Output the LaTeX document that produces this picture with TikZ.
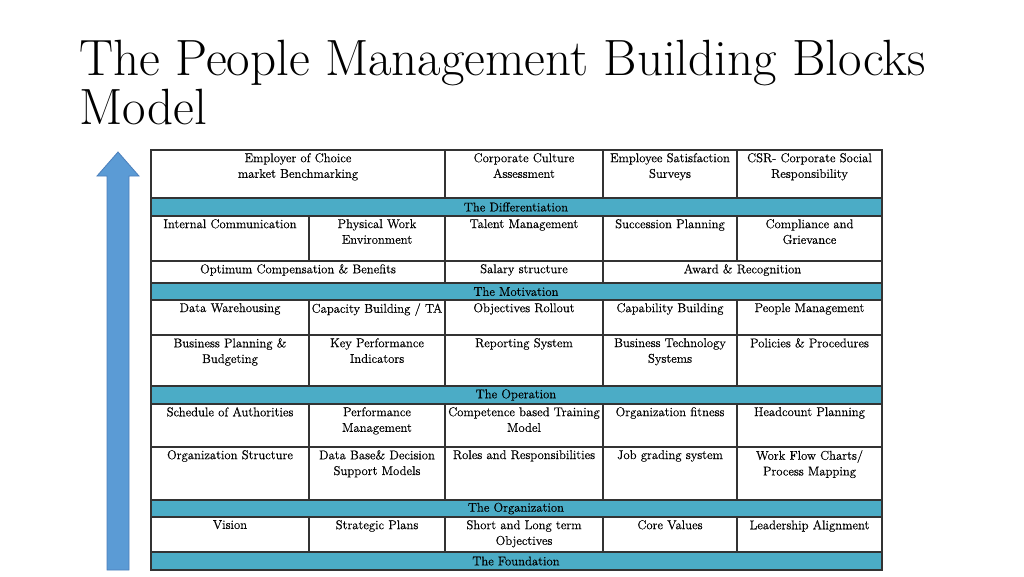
\documentclass[tikz,border=0pt]{standalone}
\usepackage{fontspec}
\newfontfamily\cellfont{Latin Modern Roman}[FakeBold=0.5]
\definecolor{band}{HTML}{4BACC6}
\definecolor{arrowfill}{HTML}{5B9BD5}
\definecolor{arrowline}{HTML}{4A7EBB}
\definecolor{gridline}{HTML}{333333}
\tikzset{
  grid/.style={draw=gridline, line width=1.3pt},
  bandbox/.style={grid, fill=band},
  celltext/.style={inner sep=0pt, align=center, font=\cellfont\fontsize{12.7}{15.7}\selectfont, anchor=north},
  bandtext/.style={inner sep=0pt, font=\cellfont\fontsize{12.7}{15.7}\selectfont},
  titletext/.style={inner sep=0pt, anchor=base west, font=\fontsize{51}{51}\selectfont},
}
\newcommand{\tcell}[6]{% name, x1, x2, y1, y2, text
  \draw[grid] (#2,#4) rectangle (#3,#5);
  \pgfmathsetmacro{\tw}{#3-#2-3}
  \node[celltext, text width=\tw pt] (#1) at ({(#2+#3)/2},{#4+3}) {#6};
}
\newcommand{\tband}[4]{% name, y1, y2, text
  \draw[bandbox] (151,#2) rectangle (882,#3);
  \node[bandtext] (#1) at (516,{(#2+#3)/2}) {#4};
}
\begin{document}
\begin{tikzpicture}[x=1pt,y=-1pt]
\useasboundingbox (0,0) rectangle (1024,576);
% title
\node[titletext] (title1) at (79,75) {The People Management Building Blocks};
\node[titletext] (title2) at (79,124) {Model};
% arrow
\draw[fill=arrowfill, draw=arrowline, line width=0.8pt] (107,570) -- (107,176) -- (97,176) -- (118,152) -- (139,176) -- (129,176) -- (129,570) -- cycle;
% row 1
\tcell{r1a}{151}{445}{150}{198}{Employer of Choice\\market Benchmarking}
\tcell{r1b}{445}{603}{150}{198}{Corporate Culture\\Assessment}
\tcell{r1c}{603}{737}{150}{198}{Employee Satisfaction\\Surveys}
\tcell{r1d}{737}{882}{150}{198}{CSR- Corporate Social\\Responsibility}
\tband{b1}{198}{216}{The Differentiation}
% row 2
\tcell{r2a}{151}{309}{216}{261}{Internal Communication}
\tcell{r2b}{309}{445}{216}{261}{Physical Work\\Environment}
\tcell{r2c}{445}{603}{216}{261}{Talent Management}
\tcell{r2d}{603}{737}{216}{261}{Succession Planning}
\tcell{r2e}{737}{882}{216}{261}{Compliance and\\Grievance}
% row 3
\tcell{r3a}{151}{445}{261}{283}{Optimum Compensation \& Benefits}
\tcell{r3b}{445}{603}{261}{283}{Salary structure}
\tcell{r3c}{603}{882}{261}{283}{Award \& Recognition}
\tband{b2}{283}{300}{The Motivation}
% row 4
\tcell{r4a}{151}{309}{300}{335}{Data Warehousing}
\tcell{r4b}{309}{445}{300}{335}{Capacity Building / TA}
\tcell{r4c}{445}{603}{300}{335}{Objectives Rollout}
\tcell{r4d}{603}{737}{300}{335}{Capability Building}
\tcell{r4e}{737}{882}{300}{335}{People Management}
% row 5
\tcell{r5a}{151}{309}{335}{386}{Business Planning \&\\Budgeting}
\tcell{r5b}{309}{445}{335}{386}{Key Performance\\Indicators}
\tcell{r5c}{445}{603}{335}{386}{Reporting System}
\tcell{r5d}{603}{737}{335}{386}{Business Technology\\Systems}
\tcell{r5e}{737}{882}{335}{386}{Policies \& Procedures}
\tband{b3}{386}{404}{The Operation}
% row 6
\tcell{r6a}{151}{309}{404}{447}{Schedule of Authorities}
\tcell{r6b}{309}{445}{404}{447}{Performance\\Management}
\tcell{r6c}{445}{603}{404}{447}{Competence based Training\\Model}
\tcell{r6d}{603}{737}{404}{447}{Organization fitness}
\tcell{r6e}{737}{882}{404}{447}{Headcount Planning}
% row 7
\tcell{r7a}{151}{309}{447}{500}{Organization Structure}
\tcell{r7b}{309}{445}{447}{500}{Data Base\& Decision\\Support Models}
\tcell{r7c}{445}{603}{447}{500}{Roles and Responsibilities}
\tcell{r7d}{603}{737}{447}{500}{Job grading system}
\tcell{r7e}{737}{882}{447}{500}{Work Flow Charts/\\Process Mapping}
\tband{b4}{500}{517}{The Organization}
% row 8
\tcell{r8a}{151}{309}{517}{552}{Vision}
\tcell{r8b}{309}{445}{517}{552}{Strategic Plans}
\tcell{r8c}{445}{603}{517}{552}{Short and Long term\\Objectives}
\tcell{r8d}{603}{737}{517}{552}{Core Values}
\tcell{r8e}{737}{882}{517}{552}{Leadership Alignment}
\tband{b5}{552}{570}{The Foundation}
\end{tikzpicture}
\end{document}
